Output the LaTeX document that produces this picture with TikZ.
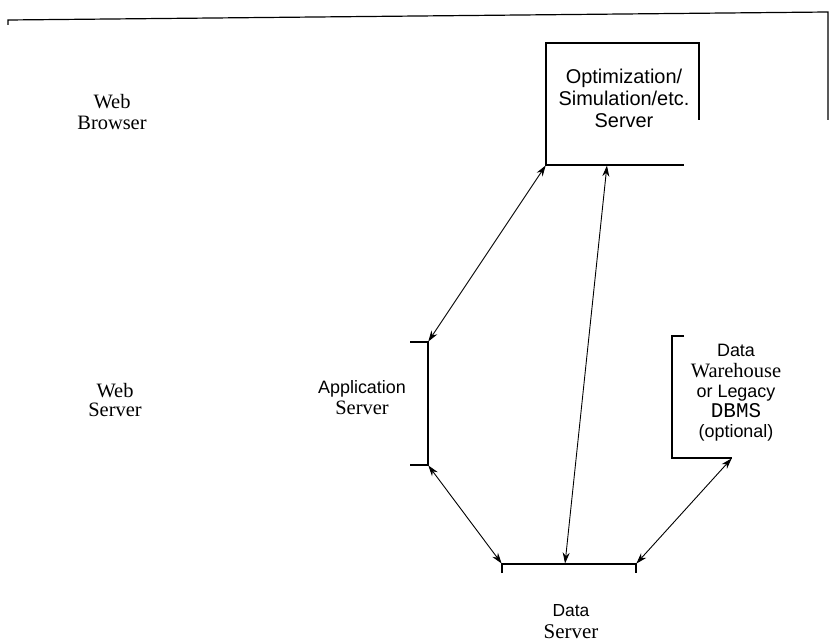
\documentclass[tikz,border=0pt]{standalone}
\usepackage{fontspec}
\setmainfont{Liberation Serif}
\setsansfont{Liberation Sans}
\setmonofont{Liberation Mono}
\usetikzlibrary{arrows.meta}

\begin{document}
\begin{tikzpicture}[x=1bp, y=-1bp, line width=1.2bp,
  tip/.tip={Stealth[length=11bp, width=7bp]},
  link/.style={tip-tip, line width=0.9bp, shorten <=0.5bp, shorten >=0.5bp},
  lbl/.style={align=center, inner sep=0pt}]
\useasboundingbox (0,0) rectangle (832,644);

% browser tier frame
\draw (8,25) -- (8,20) -- (828,12) -- (828,120);

% optimization / simulation server box (open at the lower right)
\draw (699,120) -- (699,43) -- (546,43) -- (546,165) -- (684,165);
\coordinate (optBL) at (546,165);
\coordinate (optB)  at (607,165);

% application server bracket
\draw (410,342) -- (428,342) -- (428,465) -- (410,465);
\coordinate (appT) at (428,342);
\coordinate (appB) at (428,465);

% data server bar
\draw (502,573) -- (502,564) -- (636,564) -- (636,573);
\coordinate (dsL) at (502,564);
\coordinate (dsM) at (565,564);
\coordinate (dsR) at (636,564);

% data warehouse bracket
\draw (684,336) -- (672,336) -- (672,458) -- (732,458);
\coordinate (dwB) at (732,458);

% connections
\draw[link] (optBL) -- (appT);
\draw[link] (optB)  -- (dsM);
\draw[link] (appB)  -- (dsL);
\draw[link] (dwB)   -- (dsR);

% labels
\node[lbl, font=\fontsize{20.5}{21}\selectfont] (browser) at (112,112) {Web\\Browser};
\node[lbl, font=\fontsize{20.5}{20}\selectfont] (websrv) at (115,400) {Web\\Server};
\node[lbl, font=\fontsize{20.5}{21}\selectfont] (appsrv) at (362,398)
  {\sffamily\fontsize{18}{21}\selectfont Application\\Server};
\node[lbl, font=\sffamily\fontsize{20}{22}\selectfont] (opt) at (624,98)
  {Optimization/\\Simulation/etc.\\Server};
\node[lbl, font=\sffamily\fontsize{18}{20.3}\selectfont] (dw) at (736,393)
  {Data\\
   \rmfamily\fontsize{20.5}{20.3}\selectfont Warehouse\\
   or Legacy\\
   \ttfamily\fontsize{21}{20.3}\selectfont DBMS\\
   (optional)};
\node[lbl, font=\fontsize{21}{22}\selectfont] (dsname) at (571,622)
  {\sffamily\fontsize{17.5}{22}\selectfont Data\\Server};
\end{tikzpicture}
\end{document}
